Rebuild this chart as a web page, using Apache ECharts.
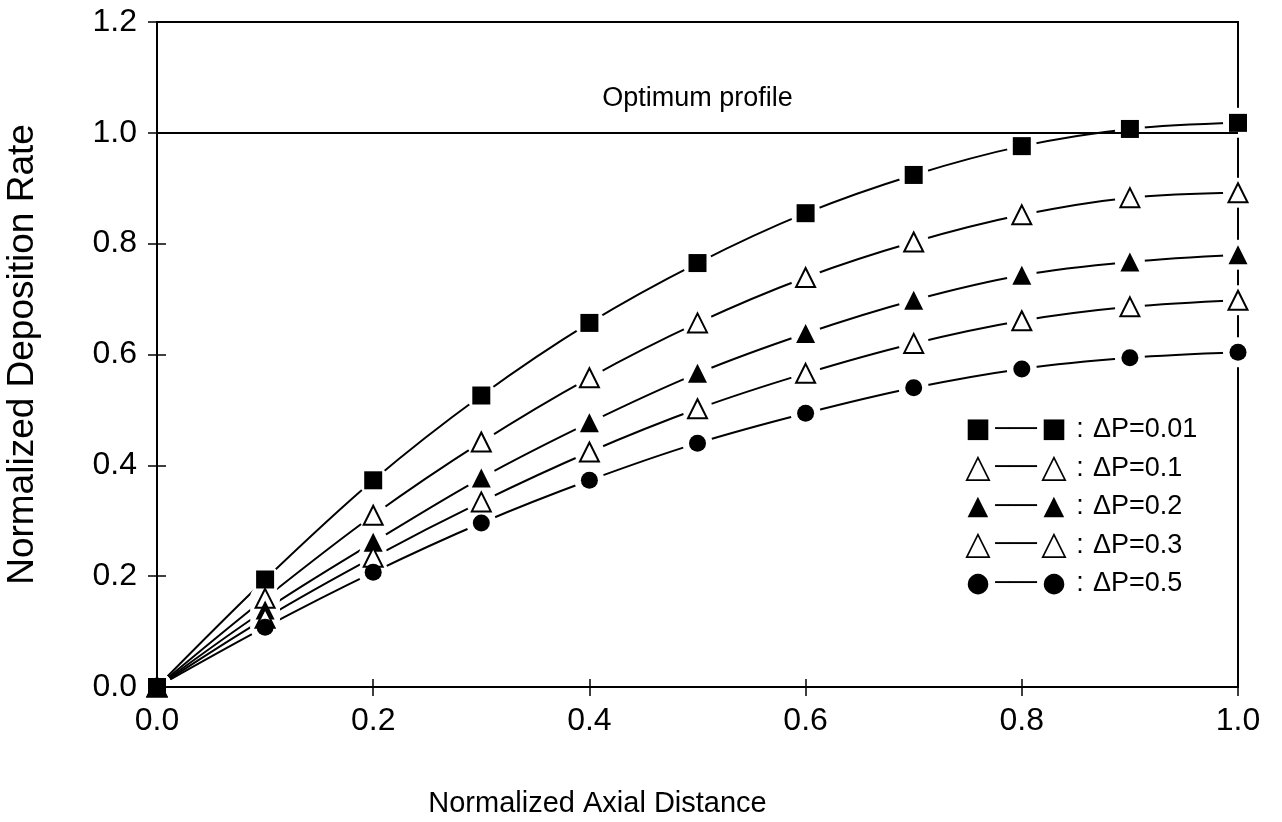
<!DOCTYPE html>
<html>
<head>
<meta charset="utf-8">
<script src="https://cdn.jsdelivr.net/npm/echarts@6/dist/echarts.min.js"></script>
<style>
  html, body { margin: 0; padding: 0; background: #fff; }
  #chart { width: 1282px; height: 822px; }
</style>
</head>
<body>
<div id="chart"></div>
<script>
// axial positions
var xs = [0, 0.1, 0.2, 0.3, 0.4, 0.5, 0.6, 0.7, 0.8, 0.9, 1.0];
// normalized deposition rate for each pressure drop
var dp001 = [0, 0.194, 0.373, 0.526, 0.657, 0.765, 0.855, 0.924, 0.976, 1.007, 1.018];
var dp01  = [0, 0.160, 0.310, 0.442, 0.558, 0.657, 0.739, 0.803, 0.852, 0.883, 0.892];
var dp02  = [0, 0.139, 0.261, 0.377, 0.477, 0.566, 0.638, 0.698, 0.743, 0.767, 0.780];
var dp03  = [0, 0.124, 0.234, 0.334, 0.424, 0.502, 0.566, 0.620, 0.661, 0.686, 0.698];
var dp05  = [0, 0.108, 0.207, 0.296, 0.373, 0.440, 0.494, 0.540, 0.574, 0.594, 0.604];
var names = ['ΔP=0.01', 'ΔP=0.1', 'ΔP=0.2', 'ΔP=0.3', 'ΔP=0.5'];
var optimum = 1.0;

var FONT = '"Liberation Sans", "DejaVu Sans", sans-serif';

// marker style per curve: symbol, fill, glyph (and its rich style) for the key
var looks = [
    {symbol: 'rect', size: 18, fill: '#000', glyph: '■', gs: 'g'},
    {symbol: 'triangle', size: 19, fill: '#fff', glyph: '△', gs: 'o'},
    {symbol: 'triangle', size: 19, fill: '#000', glyph: '▲', gs: 'g'},
    {symbol: 'triangle', size: 19, fill: '#fff', glyph: '△', gs: 'o'},
    {symbol: 'circle', size: 17, fill: '#000', glyph: '●', gs: 'g'}
];
var curves = [dp001, dp01, dp02, dp03, dp05];

function pairs(ys){
    return xs.map(function(x, i){ return [x, ys[i]]; });
}

var series = [];
curves.forEach(function(ys, k){
    // the curve itself
    var line = {
        name: 'curve' + k,
        type: 'line',
        data: pairs(ys),
        smooth: 0.35,
        showSymbol: false,
        silent: true,
        z: 1,
        lineStyle: {color: '#000', width: 2}
    };
    if(k === 0){
        line.markLine = {
            silent: true,
            symbol: ['none', 'none'],
            lineStyle: {color: '#000', width: 2, type: 'solid'},
            label: {
                formatter: 'Optimum profile',
                position: 'insideMiddleTop',
                distance: 21,
                color: '#000',
                fontSize: 27,
                fontFamily: FONT
            },
            data: [{yAxis: optimum}]
        };
    }
    series.push(line);
    // white halo so the curve stops short of each marker
    series.push({
        name: 'halo' + k,
        type: 'scatter',
        data: pairs(ys),
        symbol: 'circle',
        symbolSize: 30,
        silent: true,
        z: 2,
        itemStyle: {color: '#fff', opacity: 1}
    });
});
curves.forEach(function(ys, k){
    var lk = looks[k];
    series.push({
        name: names[k],
        type: 'scatter',
        data: pairs(ys),
        symbol: lk.symbol,
        symbolSize: lk.size,
        silent: true,
        z: k === 0 ? 4 : 3,
        itemStyle: {color: lk.fill, opacity: 1, borderColor: '#000', borderWidth: lk.fill === '#fff' ? 2 : 0}
    });
});

var chart = echarts.init(document.getElementById('chart'));
var option = {
    backgroundColor: '#fff',
    animation: false,
    grid: {
        left: 157, right: 44, top: 22, bottom: 135,
        outerBoundsMode: 'none',
        show: true, borderColor: '#000', borderWidth: 2
    },
    legend: {
        left: 954, top: 409,
        orient: 'vertical',
        itemWidth: 0, itemHeight: 0, itemGap: 6,
        selectedMode: false,
        data: names,
        formatter: function(name){
            var lk = looks[names.indexOf(name)];
            var g = '{' + lk.gs + '|' + lk.glyph + '}';
            return g + '{d|───}' + g + '{c|:}' + name;
        },
        textStyle: {
            color: '#000', fontSize: 27, fontFamily: FONT, lineHeight: 32,
            rich: {
                g: {fontFamily: '"DejaVu Sans"', fontSize: 27, color: '#000', width: 26, align: 'center', lineHeight: 32},
                o: {fontFamily: '"DejaVu Sans"', fontSize: 33, color: '#000', width: 26, align: 'center', lineHeight: 32},
                d: {fontFamily: '"DejaVu Sans"', fontSize: 23, color: '#000', width: 50, align: 'center', lineHeight: 32},
                c: {fontFamily: FONT, fontSize: 27, color: '#000', width: 26, align: 'center', lineHeight: 32}
            }
        }
    },
    xAxis: [
        {
            type: 'value', min: 0, max: 1, interval: 0.2, z: 5,
            name: 'Normalized Axial Distance',
            nameLocation: 'middle', nameGap: 102,
            nameTextStyle: {color: '#000', fontSize: 29, fontFamily: FONT, padding: [0, 200, 0, 0]},
            axisLine: {onZero: false, lineStyle: {color: '#000', width: 2}},
            axisTick: {length: 9, lineStyle: {color: '#000', width: 1.5}},
            axisLabel: {color: '#000', fontSize: 32, fontFamily: FONT, margin: 18,
                formatter: function(v){ return v.toFixed(1); }},
            splitLine: {show: false}
        },
        {
            type: 'value', position: 'bottom', min: 0, max: 1, interval: 0.2, z: 5,
            axisLine: {show: false},
            axisTick: {inside: true, length: 8, lineStyle: {color: '#000', width: 1.5}},
            axisLabel: {show: false},
            splitLine: {show: false}
        }
    ],
    yAxis: [
        {
            type: 'value', min: 0, max: 1.2, interval: 0.2, z: 5,
            name: 'Normalized Deposition Rate',
            nameLocation: 'middle', nameGap: 116,
            nameTextStyle: {color: '#000', fontSize: 37, fontFamily: FONT},
            axisLine: {onZero: false, lineStyle: {color: '#000', width: 2}},
            axisTick: {length: 9, lineStyle: {color: '#000', width: 1.5}},
            axisLabel: {color: '#000', fontSize: 32, fontFamily: FONT, margin: 20,
                formatter: function(v){ return v.toFixed(1); }},
            splitLine: {show: false}
        },
        {
            type: 'value', position: 'left', min: 0, max: 1.2, interval: 0.2, z: 5,
            axisLine: {show: false},
            axisTick: {inside: true, length: 9, lineStyle: {color: '#000', width: 1.5}},
            axisLabel: {show: false},
            splitLine: {show: false}
        },
        {
            type: 'value', position: 'right', min: 0, max: 1.2, interval: 0.2, z: 5,
            axisLine: {show: true, lineStyle: {color: '#000', width: 2}},
            axisTick: {show: false},
            axisLabel: {show: false},
            splitLine: {show: false}
        }
    ],
    series: series
};
chart.setOption(option);
</script>
</body>
</html>
